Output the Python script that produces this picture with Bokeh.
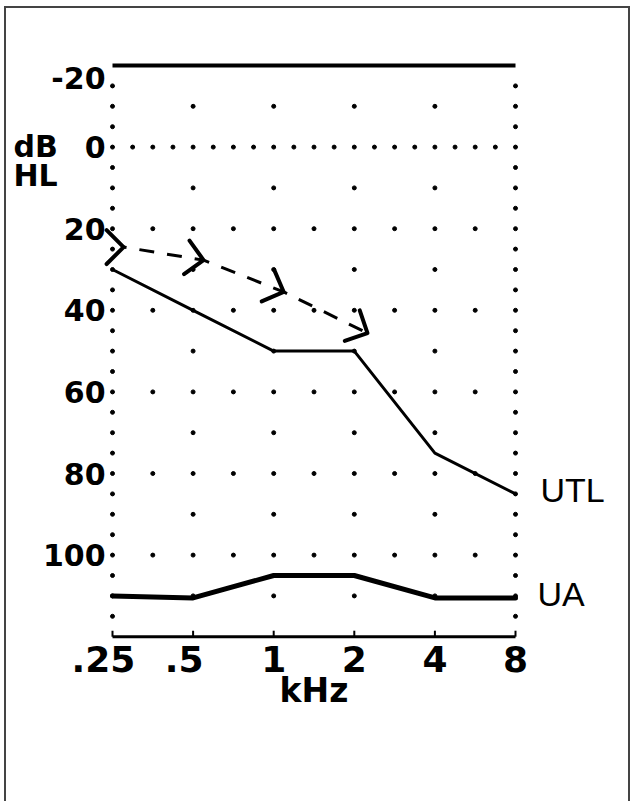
import math
from bokeh.plotting import figure
from bokeh.models import Range1d
from bokeh.core.properties import value
from bokeh.embed import file_html
from bokeh.resources import INLINE

# ---------------- data ----------------
freq_khz = [0.25, 0.5, 1, 2, 4, 8]
freq_labels = [".25", ".5", "1", "2", "4", "8"]
db_ticks = [-20, 0, 20, 40, 60, 80, 100]
db_labels = ["-20", "0", "20", "40", "60", "80", "100"]
utl_db = [30, 40, 50, 50, 75, 85]            # UTL curve (thin line)
ua_db = [110, 110.5, 105, 105, 110.5, 110.5]  # UA curve (thick line)
arrow_khz = [0.275, 0.547, 1.09, 2.24]       # hand-drawn dashed arrow path (chevron tips)
arrow_db = [24.5, 27.7, 35.5, 45.6]
db_top, db_bottom = -20, 120

# ---------------- layout constants (pixels) ----------------
W, H = 632, 801
X_025 = 112      # pixel column of .25 kHz
Y_TOP = 65       # pixel row of -20 dB
PX_OCT = 80.6    # pixels per octave
PX_DB = 4.08     # pixels per dB


def px_to_khz(px):
    return 0.25 * 2 ** ((px - X_025) / PX_OCT)


def py_to_db(py):
    return db_top + (py - Y_TOP) / PX_DB


FONT = value("DejaVu Sans")
HAND = value("Liberation Sans")

p = figure(width=W, height=H, x_axis_type="log",
           x_range=Range1d(px_to_khz(0), px_to_khz(W)),
           y_range=Range1d(py_to_db(H), py_to_db(0)),
           x_axis_location=None, y_axis_location=None,
           output_backend="svg", toolbar_location=None,
           min_border_left=0, min_border_right=0,
           min_border_top=0, min_border_bottom=0)
p.xgrid.visible = False
p.ygrid.visible = False
p.outline_line_color = None
p.border_fill_color = None
p.background_fill_color = None
p.styles = {"box-shadow": "inset 4px 6px 0 0 white, inset -2px 0 0 0 white, "
                          "inset 6px 8px 0 0 #444, inset -4px 0 0 0 #444"}

# ---------------- dotted grid ----------------
gx, gy = [], []
for f in (freq_khz[0], freq_khz[-1]):            # dotted side axes, every 5 dB
    for d in range(db_top + 5, db_bottom, 5):
        gx.append(f)
        gy.append(d)
n_oct = len(freq_khz) - 1
for row in range(db_top + 10, db_bottom, 10):
    if row == 0:
        steps = 4
    elif row % 20 == 0:
        steps = 2
    else:
        steps = 1
    for k in range(1, n_oct * steps):
        gx.append(freq_khz[0] * 2 ** (k / steps))
        gy.append(row)
p.scatter(gx, gy, marker="circle", size=4, color="black")

# solid top (-20 dB) and bottom lines
p.line([freq_khz[0], freq_khz[-1]], [db_top, db_top], line_width=4, color="black")
p.line([freq_khz[0], freq_khz[-1]], [db_bottom, db_bottom], line_width=3, color="black")
p.scatter(freq_khz, [db_bottom - 3 / PX_DB] * len(freq_khz), marker="dash",
          angle=math.pi / 2, size=6, line_width=2, color="black")

# ---------------- tick labels ----------------
y_label_pos = [t + (3 if t == db_top else 0) for t in db_ticks]
p.text([px_to_khz(105)] * len(db_ticks), y_label_pos, text=db_labels,
       text_font=FONT, text_font_style="bold", text_font_size="30px",
       text_align="right", text_baseline="middle", text_color="black")
x_offsets = [-9 if lab.startswith(".") else 0 for lab in freq_labels]
p.text(freq_khz, [py_to_db(658)] * len(freq_khz), text=freq_labels,
       x_offset=x_offsets, text_font=FONT, text_font_style="bold",
       text_font_size="36px", text_align="center", text_baseline="middle",
       text_color="black")

# axis titles
p.text([px_to_khz(13), px_to_khz(13)], [py_to_db(146), py_to_db(175)],
       text=["dB", "HL"], text_font=FONT, text_font_style="bold",
       text_font_size="30px", text_align="left", text_baseline="middle",
       text_color="black")
p.text([math.sqrt(freq_khz[0] * freq_khz[-1])], [py_to_db(690)], text=["kHz"],
       text_font=FONT, text_font_style="bold", text_font_size="33px",
       text_align="center", text_baseline="middle", text_color="black")

# ---------------- curves ----------------
p.line(freq_khz, utl_db, line_width=3, color="black", line_join="round")
p.line(freq_khz, ua_db, line_width=5, color="black", line_join="round", line_cap="round")

# dashed hand-drawn arrow path with chevrons
p.line(arrow_khz, arrow_db, line_width=3, color="black", line_dash="15 13",
       line_dash_offset=12)
ARM, HALF = 24, math.radians(45)
cx, cy = [], []
for i in range(len(arrow_khz)):
    if i == 0:
        dx, dy = 1.0, 0.0
    else:
        dx = math.log2(arrow_khz[i] / arrow_khz[i - 1]) * PX_OCT
        dy = (arrow_db[i] - arrow_db[i - 1]) * PX_DB
    th = math.atan2(dy, dx) + math.pi
    xs, ys = [], []
    for sgn in (1, -1):
        ax = ARM * math.cos(th + sgn * HALF)
        ay = ARM * math.sin(th + sgn * HALF)
        xs.append(arrow_khz[i] * 2 ** (ax / PX_OCT))
        ys.append(arrow_db[i] + ay / PX_DB)
    cx.append([xs[0], arrow_khz[i], xs[1]])
    cy.append([ys[0], arrow_db[i], ys[1]])
p.multi_line(cx, cy, line_width=4, color="black", line_join="round", line_cap="round")

# curve labels
p.text([freq_khz[-1]], [utl_db[-1]], text=["UTL"], x_offset=25, y_offset=-4,
       text_font=HAND, text_font_size="34px",
       text_baseline="middle", text_align="left", text_color="black")
p.text([freq_khz[-1]], [ua_db[-1]], text=["UA"], x_offset=22, y_offset=-4,
       text_font=HAND, text_font_size="34px",
       text_baseline="middle", text_align="left", text_color="black")

open("out.html", "w").write(file_html(p, INLINE))
